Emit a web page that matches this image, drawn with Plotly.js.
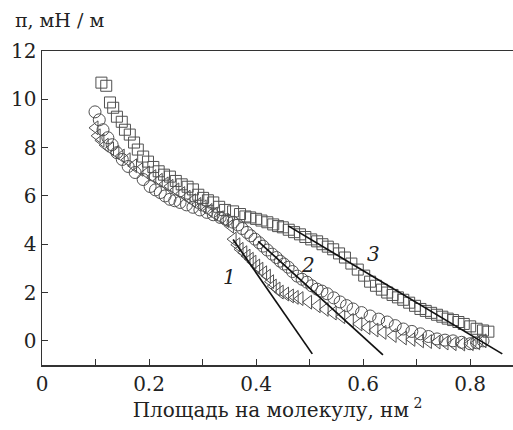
<!DOCTYPE html>
<html><head><meta charset="utf-8">
<script src="https://cdn.plot.ly/plotly-3.0.1.min.js"></script>
<style>html,body{margin:0;padding:0;background:#fff}#c{width:513px;height:430px}</style>
</head><body><div id="c"></div>
<script>
// Series 3 (squares)
const sqX = [0.111,0.120,0.127,0.133,0.140,0.149,0.155,0.164,0.172,0.179,0.189,0.198,0.208,0.218,0.228,0.239,0.250,0.261,0.272,0.282,0.292,0.301,0.310,0.320,0.331,0.342,0.357,0.370,0.380,0.389,0.400,0.410,0.421,0.432,0.441,0.450,0.461,0.471,0.482,0.492,0.503,0.514,0.524,0.534,0.544,0.555,0.566,0.578,0.590,0.602,0.613,0.624,0.635,0.645,0.655,0.665,0.675,0.686,0.697,0.707,0.717,0.727,0.738,0.748,0.758,0.768,0.778,0.788,0.800,0.812,0.824,0.834];
const sqY = [10.69,10.56,9.87,9.65,9.28,9.07,8.74,8.54,8.21,7.92,7.63,7.42,7.20,7.02,6.88,6.80,6.62,6.48,6.38,6.27,6.05,5.92,5.82,5.73,5.55,5.42,5.36,5.25,5.15,5.11,5.05,4.98,4.91,4.82,4.75,4.70,4.60,4.50,4.41,4.30,4.20,4.12,4.00,3.90,3.79,3.62,3.45,3.20,2.95,2.70,2.45,2.28,2.12,2.00,1.90,1.80,1.70,1.58,1.45,1.32,1.24,1.16,1.08,1.00,0.92,0.86,0.78,0.70,0.60,0.50,0.43,0.38];
// Series 2 (circles)
const ciX = [0.099,0.107,0.114,0.123,0.131,0.140,0.150,0.161,0.174,0.189,0.202,0.212,0.221,0.230,0.239,0.248,0.258,0.270,0.282,0.295,0.308,0.320,0.333,0.345,0.357,0.366,0.374,0.383,0.390,0.398,0.406,0.413,0.421,0.430,0.438,0.445,0.452,0.460,0.468,0.477,0.486,0.495,0.504,0.514,0.523,0.533,0.545,0.557,0.569,0.581,0.597,0.613,0.629,0.645,0.660,0.675,0.691,0.707,0.722,0.738,0.753,0.768,0.784,0.800,0.812,0.824];
const ciY = [9.48,9.15,8.74,8.41,8.12,7.79,7.51,7.22,6.97,6.68,6.39,6.25,6.14,6.00,5.86,5.80,5.73,5.63,5.53,5.42,5.32,5.22,5.11,5.01,4.91,4.80,4.65,4.49,4.35,4.21,4.06,3.92,3.76,3.59,3.45,3.30,3.18,3.05,2.87,2.68,2.55,2.43,2.28,2.14,2.06,1.95,1.78,1.61,1.46,1.32,1.17,1.03,0.90,0.78,0.63,0.49,0.39,0.29,0.18,0.08,0.03,0.00,-0.06,-0.12,-0.08,0.00];
// Series 1 (triangles)
const trX = [0.099,0.103,0.110,0.118,0.128,0.138,0.148,0.159,0.171,0.183,0.195,0.207,0.219,0.230,0.239,0.250,0.261,0.271,0.281,0.291,0.301,0.312,0.322,0.333,0.343,0.352,0.357,0.364,0.370,0.377,0.383,0.389,0.394,0.401,0.407,0.414,0.421,0.427,0.432,0.439,0.445,0.455,0.464,0.473,0.482,0.498,0.514,0.529,0.544,0.560,0.576,0.592,0.607,0.622,0.637,0.656,0.675,0.691,0.707,0.722,0.738,0.753,0.768,0.784,0.800,0.812,0.824];
const trY = [8.82,8.49,8.30,8.10,7.95,7.80,7.65,7.50,7.25,7.10,6.95,6.80,6.65,6.50,6.40,6.25,6.10,5.95,5.80,5.65,5.55,5.40,5.25,5.10,4.98,4.75,4.21,3.98,3.79,3.65,3.51,3.38,3.26,3.10,2.97,2.82,2.68,2.45,2.27,2.15,2.02,1.94,1.86,1.80,1.75,1.60,1.45,1.30,1.15,1.00,0.85,0.70,0.55,0.45,0.35,0.22,0.12,0.06,0.00,-0.03,-0.05,-0.09,-0.12,-0.13,-0.12,-0.08,0.00];
// Tangent lines (endpoints)
const line1X = [0.357, 0.505], line1Y = [4.20, -0.54];
const line2X = [0.404, 0.637], line2Y = [4.12, -0.58];
const line3X = [0.460, 0.860], line3Y = [4.76, -0.54];
const lineLabels = ['1','2','3'];
const labelX = [0.351, 0.497, 0.619];
const labelY = [2.64, 3.12, 3.59];

const mk = (sym, sz) => ({symbol: sym, size: sz, color: '#505050', line: {color: '#505050', width: 1}});
const data = [
  {x: trX, y: trY, mode: 'markers', type: 'scatter', marker: mk('triangle-left-open', 12), cliponaxis: false},
  {x: ciX, y: ciY, mode: 'markers', type: 'scatter', marker: mk('circle-open', 12), cliponaxis: false},
  {x: sqX, y: sqY, mode: 'markers', type: 'scatter', marker: mk('square-open', 11), cliponaxis: false},
  {x: line1X, y: line1Y, mode: 'lines', line: {color: '#111', width: 1.7}},
  {x: line2X, y: line2Y, mode: 'lines', line: {color: '#111', width: 1.7}},
  {x: line3X, y: line3Y, mode: 'lines', line: {color: '#111', width: 1.7}}
];
const font = 'DejaVu Serif';
const anns = lineLabels.map((t, i) => ({x: labelX[i], y: labelY[i], xref: 'x', yref: 'y', text: '<i>' + t + '</i>', showarrow: false, font: {family: font, size: 20, color: '#222'}}));
anns.push({xref: 'paper', yref: 'paper', x: -0.062, y: 1.098, xanchor: 'left', yanchor: 'middle', text: 'π, мН / м', showarrow: false, font: {family: font, size: 19, color: '#222'}});
const layout = {
  width: 513, height: 430,
  margin: {l: 42, r: 0, t: 51, b: 65},
  showlegend: false,
  paper_bgcolor: '#fff', plot_bgcolor: '#fff',
  font: {family: font, size: 20, color: '#222'},
  xaxis: {range: [0, 0.88], tickvals: [0, 0.2, 0.4, 0.6, 0.8], ticktext: ['0', '0.2', '0.4', '0.6', '0.8'],
    ticks: 'inside', ticklen: 6, tickcolor: '#333', showgrid: false, zeroline: false,
    showline: true, linecolor: '#333', linewidth: 1.5, mirror: true,
    minor: {ticks: 'inside', tickvals: [0.1, 0.3, 0.5, 0.7], ticklen: 6, tickcolor: '#333', showgrid: false},
    tickfont: {family: font, size: 20, color: '#222'},
    title: {text: 'Площадь на молекулу, нм<sup> 2</sup>', font: {family: font, size: 20, color: '#222'}, standoff: 4}},
  yaxis: {range: [-1, 12], tickvals: [0, 2, 4, 6, 8, 10, 12],
    ticks: 'inside', ticklen: 6, tickcolor: '#333', showgrid: false, zeroline: false,
    showline: true, linecolor: '#333', linewidth: 1.5,
    tickfont: {family: font, size: 20, color: '#222'}},
  annotations: anns
};
Plotly.newPlot('c', data, layout, {displayModeBar: false, staticPlot: true});
</script></body></html>
